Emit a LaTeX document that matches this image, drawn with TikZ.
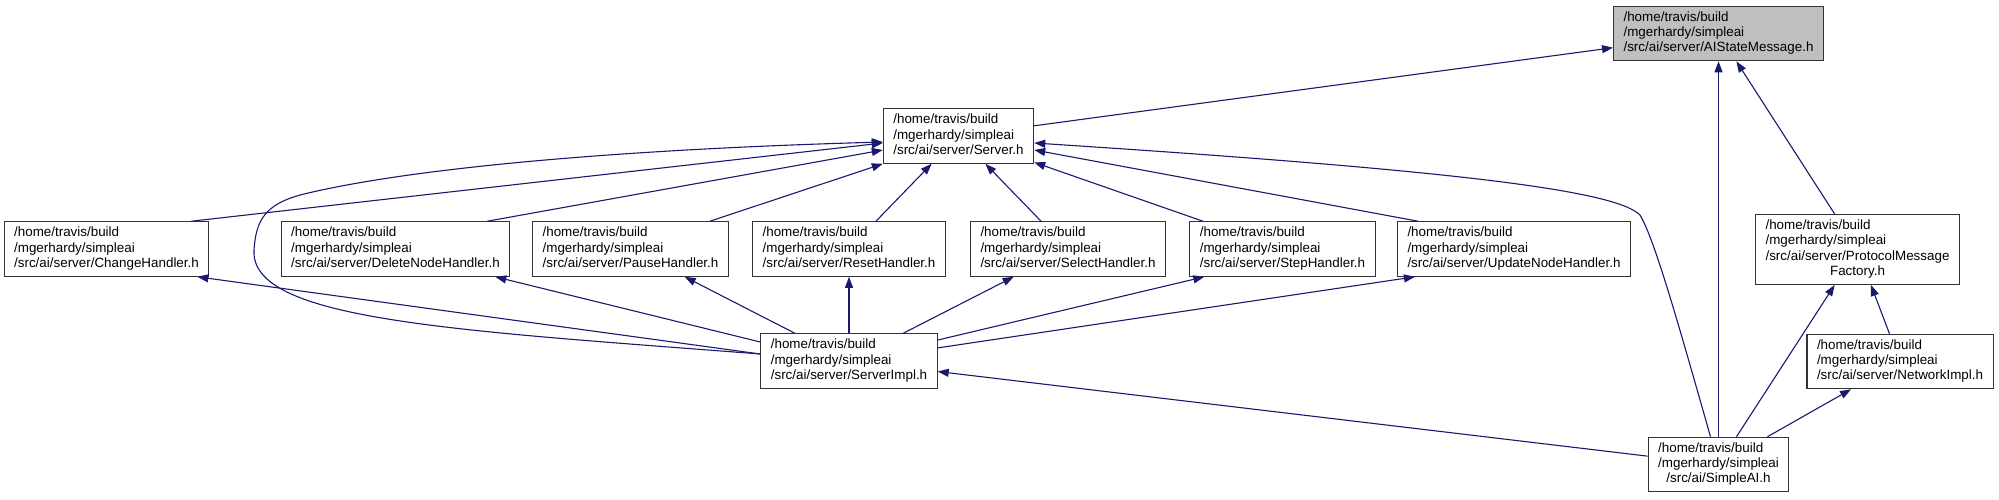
\documentclass[tikz,border=0pt]{standalone}
\usepackage{fontspec}
\setmainfont{Liberation Sans}
\usepackage{tikz}
\usetikzlibrary{arrows.meta}
\definecolor{DepBlue}{HTML}{191970}
\definecolor{MsgGray}{HTML}{BFBFBF}
\newcommand{\incfile}[2]{\begin{tabular}{@{}l@{}}#1\\\multicolumn{1}{@{}c@{}}{#2}\end{tabular}}
\newcommand{\hdrfont}{\fontsize{13.4pt}{15.3pt}\selectfont}

\begin{document}
\begin{tikzpicture}[x=1pt,y=-1pt,
    hdr/.style={draw=black!80,line width=1.1pt,fill=white,inner xsep=10pt,inner ysep=4.3pt,font=\hdrfont},
    dep/.style={draw=DepBlue,line width=1.1pt,-{Triangle[length=11pt,width=8pt]}}]
  \useasboundingbox (0,0) rectangle (1999,499);
  % headers
  \node[hdr,fill=MsgGray] (msg) at (1718.5,33.5)
        {\incfile{/home/travis/build\\/mgerhardy/simpleai}{/src/ai/server/AIStateMessage.h}};
  \node[hdr] (srv) at (958.5,136)
        {\incfile{/home/travis/build\\/mgerhardy/simpleai}{/src/ai/server/Server.h}};
  \node[hdr] (chg) at (106.5,249)
        {\incfile{/home/travis/build\\/mgerhardy/simpleai}{/src/ai/server/ChangeHandler.h}};
  \node[hdr] (del) at (395.5,249)
        {\incfile{/home/travis/build\\/mgerhardy/simpleai}{/src/ai/server/DeleteNodeHandler.h}};
  \node[hdr] (pause) at (630.5,249)
        {\incfile{/home/travis/build\\/mgerhardy/simpleai}{/src/ai/server/PauseHandler.h}};
  \node[hdr] (reset) at (849,249)
        {\incfile{/home/travis/build\\/mgerhardy/simpleai}{/src/ai/server/ResetHandler.h}};
  \node[hdr] (select) at (1068,249)
        {\incfile{/home/travis/build\\/mgerhardy/simpleai}{/src/ai/server/SelectHandler.h}};
  \node[hdr] (steph) at (1282.5,249)
        {\incfile{/home/travis/build\\/mgerhardy/simpleai}{/src/ai/server/StepHandler.h}};
  \node[hdr] (update) at (1514,249)
        {\incfile{/home/travis/build\\/mgerhardy/simpleai}{/src/ai/server/UpdateNodeHandler.h}};
  \node[hdr] (pmf) at (1857.5,249.5)
        {\incfile{/home/travis/build\\/mgerhardy/simpleai\\/src/ai/server/ProtocolMessage}{Factory.h}};
  \node[hdr] (impl) at (849,361)
        {\incfile{/home/travis/build\\/mgerhardy/simpleai}{/src/ai/server/ServerImpl.h}};
  \node[hdr] (net) at (1900,361.5)
        {\incfile{/home/travis/build\\/mgerhardy/simpleai}{/src/ai/server/NetworkImpl.h}};
  \node[hdr] (simple) at (1718.5,464.5)
        {\incfile{/home/travis/build\\/mgerhardy/simpleai}{/src/ai/SimpleAI.h}};
  % includes of AIStateMessage.h
  \draw[dep] (srv) -- (msg);
  \draw[dep] (simple) -- (msg);
  \draw[dep] (pmf) -- (msg);
  % includes of Server.h
  \draw[dep] ([xshift=-18pt]chg.north east) -- ([yshift=-7pt]srv.west);
  \draw[dep] ([xshift=-23pt]del.north east) -- ([yshift=-14pt]srv.west);
  \draw[dep] ([xshift=-19pt]pause.north east) -- (srv.south west);
  \draw[dep] (reset) -- (srv);
  \draw[dep] (select) -- (srv);
  \draw[dep] (steph) -- (srv);
  \draw[dep] ([xshift=21pt]update.north west) -- (srv);
  \draw[dep] ([xshift=-8pt]simple.north) .. controls (1680,330) and (1655,240) .. (1640,215)
        .. controls (1615,190) and (1450,170) .. ([yshift=-7pt]srv.east);
  \draw[dep] ([yshift=7pt]impl.west) .. controls (450,330) and (250,320) .. (254,250)
        .. controls (256,220) and (265,205) .. (300,195)
        .. controls (400,170) and (600,150) .. ([yshift=-6pt]srv.west);
  % includes of the handlers
  \draw[dep] ([yshift=7pt]impl.west) -- ([xshift=-12pt]chg.south east);
  \draw[dep] ([yshift=19pt]impl.west) -- ([xshift=-15pt]del.south east);
  \draw[dep] (impl) -- (pause);
  \draw[dep] (impl) -- (reset);
  \draw[dep] (impl) -- (select);
  \draw[dep] (impl) -- ([xshift=15pt]steph.south west);
  \draw[dep] (impl) -- ([xshift=18pt]update.south west);
  % SimpleAI.h
  \draw[dep] (simple) -- (impl);
  \draw[dep] (simple) -- (pmf);
  \draw[dep] (net) -- (pmf);
  \draw[dep] (simple) -- (net);
\end{tikzpicture}
\end{document}
